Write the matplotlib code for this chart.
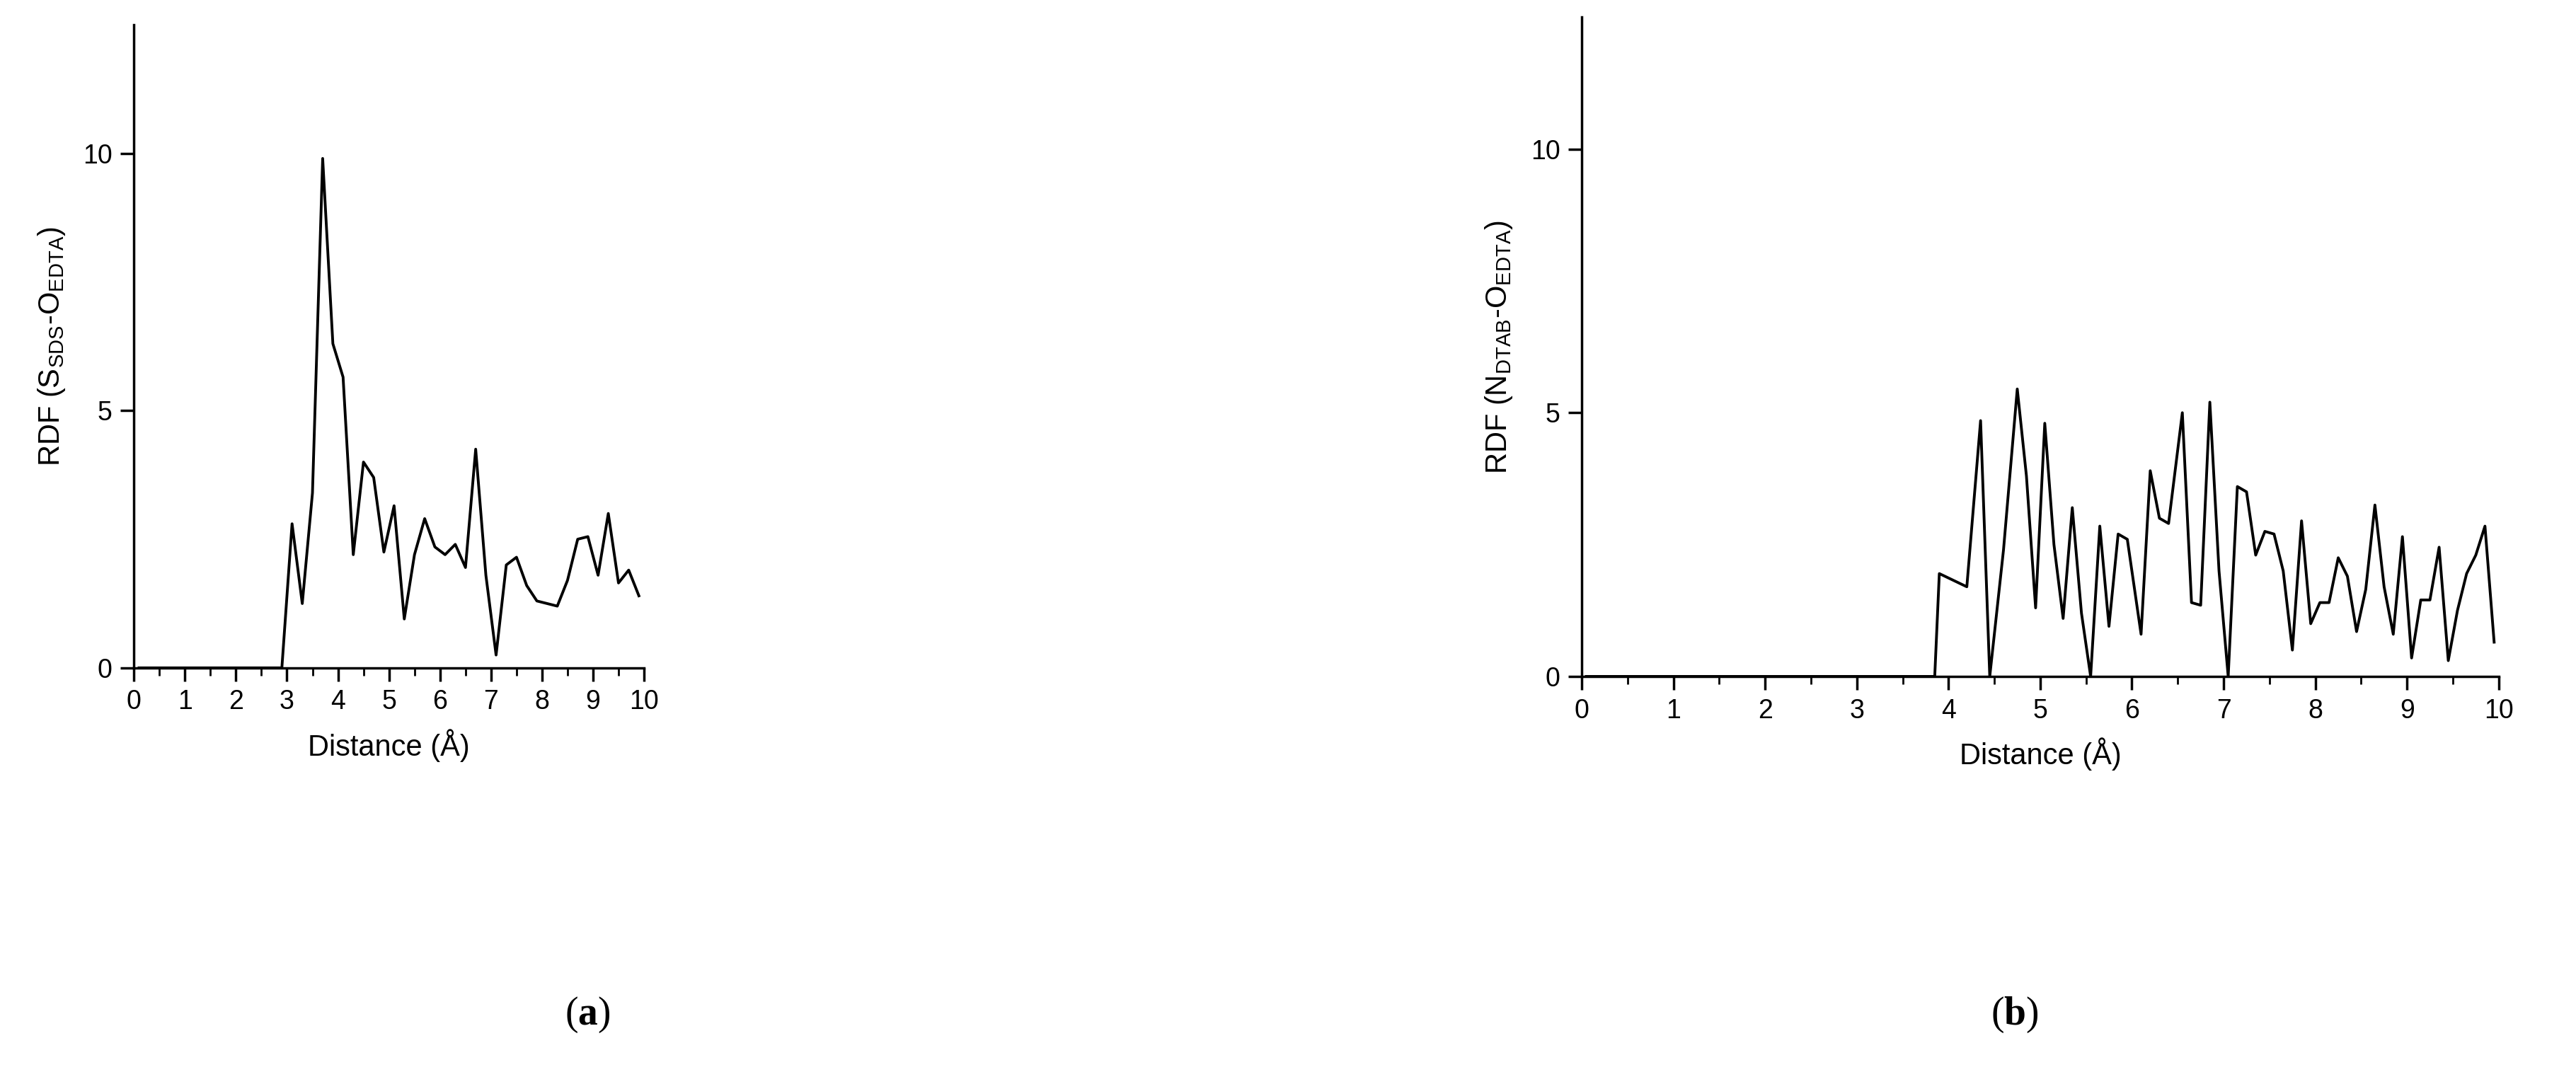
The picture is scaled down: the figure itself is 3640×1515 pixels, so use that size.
import numpy as np
import matplotlib
matplotlib.use("Agg")
import matplotlib.pyplot as plt
from matplotlib.ticker import MultipleLocator

# Panel (a): S_SDS - O_EDTA
dist_a = [0.1, 0.3, 0.5, 0.7, 0.9, 1.1, 1.3, 1.5, 1.7, 1.9, 2.1, 2.3, 2.5, 2.7,
          2.9, 3.1, 3.3, 3.5, 3.7, 3.9, 4.1, 4.3, 4.5, 4.7, 4.9, 5.1, 5.3, 5.5,
          5.7, 5.9, 6.1, 6.3, 6.5, 6.7, 6.9, 7.1, 7.3, 7.5, 7.7, 7.9, 8.1, 8.3,
          8.5, 8.7, 8.9, 9.1, 9.3, 9.5, 9.7, 9.9]
rdf_a = [0, 0, 0, 0, 0, 0, 0, 0, 0, 0, 0, 0, 0, 0,
         0, 2.8, 1.25, 3.4, 9.9, 6.3, 5.65, 2.2, 4.0, 3.7, 2.25, 3.15, 0.95, 2.2,
         2.9, 2.35, 2.2, 2.4, 1.95, 4.25, 1.8, 0.25, 2.0, 2.15, 1.6, 1.3, 1.25, 1.2,
         1.7, 2.5, 2.55, 1.8, 3.0, 1.65, 1.9, 1.4]

# Panel (b): N_DTAB - O_EDTA
dist_b = [0.05, 1.0, 2.0, 3.0, 3.85, 3.9, 4.2, 4.35, 4.45, 4.6, 4.75, 4.85, 4.95,
          5.05, 5.15, 5.25, 5.35, 5.45, 5.55, 5.65, 5.75, 5.85, 5.95, 6.1, 6.2,
          6.3, 6.4, 6.55, 6.65, 6.75, 6.85, 6.95, 7.05, 7.15, 7.25, 7.35, 7.45,
          7.55, 7.65, 7.75, 7.85, 7.95, 8.05, 8.15, 8.25, 8.35, 8.45, 8.55, 8.65,
          8.75, 8.85, 8.95, 9.05, 9.15, 9.25, 9.35, 9.45, 9.55, 9.65, 9.75, 9.85,
          9.95]
rdf_b = [0, 0, 0, 0, 0, 1.95, 1.7, 4.85, 0, 2.4, 5.45, 3.8, 1.3,
         4.8, 2.5, 1.1, 3.2, 1.2, 0, 2.85, 0.95, 2.7, 2.6, 0.8, 3.9,
         3.0, 2.9, 5.0, 1.4, 1.35, 5.2, 2.0, 0, 3.6, 3.5, 2.3, 2.75,
         2.7, 2.0, 0.5, 2.95, 1.0, 1.4, 1.4, 2.25, 1.9, 0.85, 1.65, 3.25,
         1.7, 0.8, 2.65, 0.35, 1.45, 1.45, 2.45, 0.3, 1.25, 1.95, 2.3, 2.85,
         0.65]

plt.rcParams["font.family"] = ["Liberation Sans", "DejaVu Sans"]
plt.rcParams["mathtext.fontset"] = "custom"
plt.rcParams["mathtext.rm"] = "Liberation Sans"
plt.rcParams["mathtext.bf"] = "Liberation Serif:bold"

fig = plt.figure(figsize=(36.4, 15.15), dpi=100)
ax_a = fig.add_axes([0.052, 0.377, 0.198, 0.600])
ax_b = fig.add_axes([0.614, 0.369, 0.356, 0.615])


def style(ax, ylabel):
    ax.set_xlim(0, 10)
    ax.set_ylim(0, 12.5)
    ax.xaxis.set_major_locator(MultipleLocator(1))
    ax.xaxis.set_minor_locator(MultipleLocator(0.5))
    ax.set_yticks([0, 5, 10])
    for side in ("top", "right"):
        ax.spines[side].set_visible(False)
    for side in ("left", "bottom"):
        ax.spines[side].set_linewidth(2.5)
    ax.tick_params(which="major", direction="out", length=14, width=2.5,
                   labelsize=27, pad=8)
    ax.tick_params(which="minor", direction="out", length=8, width=2)
    ax.set_xlabel("Distance (Å)", fontsize=30, labelpad=14)
    ax.set_ylabel(ylabel, fontsize=30, labelpad=16)


ax_a.plot(dist_a, rdf_a, color="black", lw=2.8)
style(ax_a, r"RDF (S$_{\mathrm{SDS}}$-O$_{\mathrm{EDTA}}$)")

ax_b.plot(dist_b, rdf_b, color="black", lw=2.8)
style(ax_b, r"RDF (N$_{\mathrm{DTAB}}$-O$_{\mathrm{EDTA}}$)")

fig.text(0.228, 0.035, r"($\mathbf{a}$)", ha="center", va="bottom",
         fontsize=40, family="Liberation Serif")
fig.text(0.782, 0.035, r"($\mathbf{b}$)", ha="center", va="bottom",
         fontsize=40, family="Liberation Serif")

fig.savefig("out.png", dpi=100, facecolor="white")
